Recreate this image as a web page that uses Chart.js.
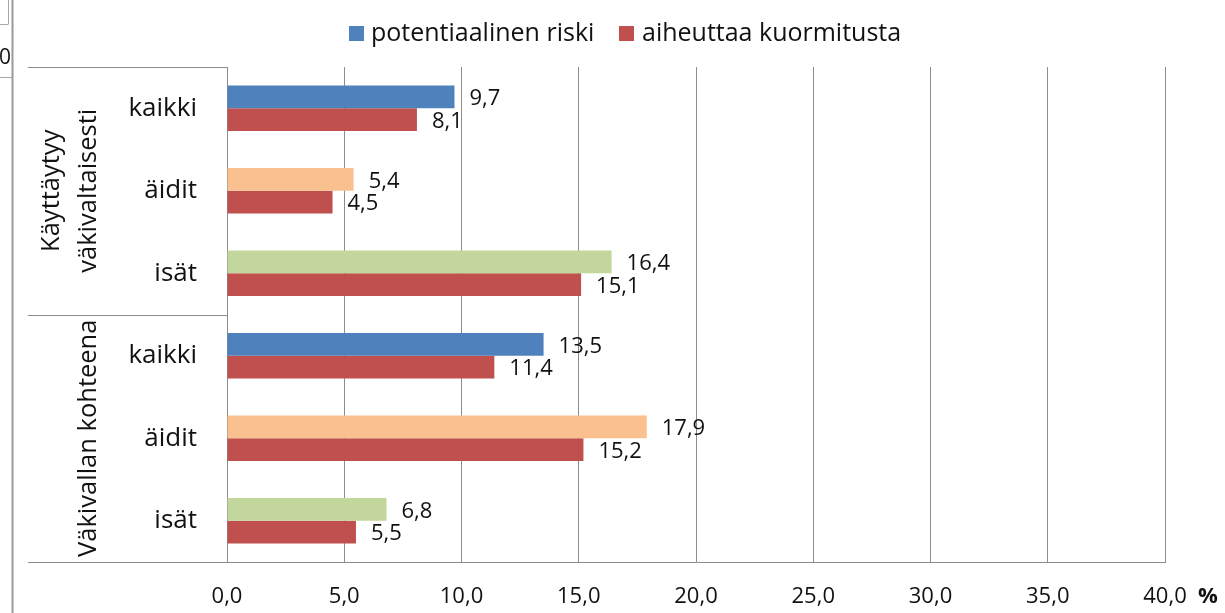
<!DOCTYPE html>
<html>
<head>
<meta charset="utf-8">
<script src="https://cdn.jsdelivr.net/npm/chart.js@4"></script>
<style>
  html, body { margin: 0; padding: 0; background: #fff; }
  #wrap { width: 1225px; height: 613px; position: relative; }
</style>
</head>
<body>
<div id="wrap"><canvas id="c" width="1225" height="613"></canvas></div>
<script>
const categories = ['kaikki', 'äidit', 'isät', 'kaikki', 'äidit', 'isät'];
const groupLabels = [['Käyttäytyy', 'väkivaltaisesti'], ['Väkivallan kohteena']];
const groupRanges = [[0, 2], [3, 5]];
const seriesNames = ['potentiaalinen riski', 'aiheuttaa kuormitusta'];
const riskValues = [9.7, 5.4, 16.4, 13.5, 17.9, 6.8];
const loadValues = [8.1, 4.5, 15.1, 11.4, 15.2, 5.5];
const riskColors = ['#4F81BD', '#FAC090', '#C3D69B', '#4F81BD', '#FAC090', '#C3D69B'];
const loadColor = '#C0504D';
const xMin = 0, xMax = 40, xStep = 5;
const xUnit = '%';

const FONT = "'Open Sans', 'DejaVu Sans', sans-serif";
const TXT = '#111111';
const LINE = '#8c8c8c';

function fmt(v) { return v.toFixed(1).replace('.', ','); }

const extras = {
  id: 'extras',
  afterDraw(chart) {
    const ctx = chart.ctx;
    const ca = chart.chartArea;
    const y = chart.scales.y;
    ctx.save();
    // frame artifacts at left
    ctx.strokeStyle = '#9a9a9a';
    ctx.lineWidth = 2;
    ctx.beginPath(); ctx.moveTo(12.5, 0); ctx.lineTo(12.5, 613); ctx.stroke();
    ctx.lineWidth = 1;
    ctx.strokeStyle = '#a8a8a8';
    ctx.beginPath(); ctx.moveTo(0, 24.5); ctx.lineTo(8, 24.5); ctx.stroke();
    ctx.beginPath(); ctx.moveTo(8.5, 0); ctx.lineTo(8.5, 24.5); ctx.stroke();
    ctx.beginPath(); ctx.moveTo(0, 77.5); ctx.lineTo(12, 77.5); ctx.stroke();
    ctx.fillStyle = TXT;
    ctx.font = '21px ' + FONT;
    ctx.textAlign = 'right';
    ctx.textBaseline = 'middle';
    ctx.fillText('0', 11, 58);

    // table lines on the left
    ctx.strokeStyle = LINE;
    ctx.lineWidth = 1;
    const left = 28;
    ctx.beginPath(); ctx.moveTo(left, Math.round(ca.top) + 0.5); ctx.lineTo(ca.left, Math.round(ca.top) + 0.5); ctx.stroke();
    const sep = Math.round((y.getPixelForValue(2) + y.getPixelForValue(3)) / 2) + 0.5;
    ctx.beginPath(); ctx.moveTo(left, sep); ctx.lineTo(ca.left, sep); ctx.stroke();
    ctx.beginPath(); ctx.moveTo(left, Math.round(ca.bottom) + 0.5); ctx.lineTo(ca.left, Math.round(ca.bottom) + 0.5); ctx.stroke();

    // group labels (rotated)
    ctx.fillStyle = TXT;
    ctx.font = '25.5px ' + FONT;
    ctx.textAlign = 'center';
    ctx.textBaseline = 'alphabetic';
    groupRanges.forEach((r, gi) => {
      const cy = (y.getPixelForValue(r[0]) + y.getPixelForValue(r[1])) / 2;
      const lines = groupLabels[gi];
      const lastBase = 96;
      lines.forEach((t, li) => {
        const bx = lastBase - (lines.length - 1 - li) * 37;
        ctx.save();
        ctx.translate(bx, cy);
        ctx.rotate(-Math.PI / 2);
        ctx.fillText(t, 0, 0);
        ctx.restore();
      });
    });

    // data labels
    ctx.font = '22px ' + FONT;
    ctx.textAlign = 'left';
    ctx.textBaseline = 'middle';
    chart.data.datasets.forEach((ds, di) => {
      const meta = chart.getDatasetMeta(di);
      meta.data.forEach((bar, i) => {
        ctx.fillText(fmt(ds.data[i]), bar.x + 15, bar.y + 2);
      });
    });

    // unit
    ctx.font = 'bold 22px ' + FONT;
    ctx.fillText(xUnit, 1198, 597);

    // legend
    ctx.font = '25px ' + FONT;
    const legendItems = [
      { text: seriesNames[0], color: riskColors[0], bx: 349, tx: 371 },
      { text: seriesNames[1], color: loadColor, bx: 619, tx: 642 }
    ];
    legendItems.forEach(it => {
      ctx.fillStyle = it.color;
      ctx.fillRect(it.bx, 26, 15, 15);
      ctx.fillStyle = TXT;
      ctx.fillText(it.text, it.tx, 34);
    });
    ctx.restore();
  }
};

new Chart(document.getElementById('c'), {
  type: 'bar',
  data: {
    labels: categories,
    datasets: [
      { label: seriesNames[0], data: riskValues, backgroundColor: riskColors, borderWidth: 0,
        categoryPercentage: 0.55, barPercentage: 1.0 },
      { label: seriesNames[1], data: loadValues, backgroundColor: loadColor, borderWidth: 0,
        categoryPercentage: 0.55, barPercentage: 1.0 }
    ]
  },
  options: {
    indexAxis: 'y',
    responsive: false,
    maintainAspectRatio: false,
    devicePixelRatio: 1,
    animation: false,
    layout: { padding: { left: 0, top: 67, right: 60, bottom: 0 } },
    plugins: { legend: { display: false }, tooltip: { enabled: false } },
    scales: {
      x: {
        type: 'linear',
        min: xMin, max: xMax,
        ticks: { stepSize: xStep, callback: v => fmt(v), font: { size: 22, family: FONT }, color: TXT, padding: 22, maxRotation: 0 },
        grid: { color: LINE, lineWidth: 1, drawTicks: false },
        border: { display: true, color: LINE, width: 1 },
        afterFit(s) { s.height = 51; }
      },
      y: {
        type: 'category',
        ticks: { font: { size: 26, family: FONT }, color: TXT, padding: 30 },
        grid: { display: false, drawTicks: false },
        border: { display: true, color: LINE, width: 1 },
        afterFit(s) { s.width = 227; }
      }
    }
  },
  plugins: [extras]
});
</script>
</body>
</html>
